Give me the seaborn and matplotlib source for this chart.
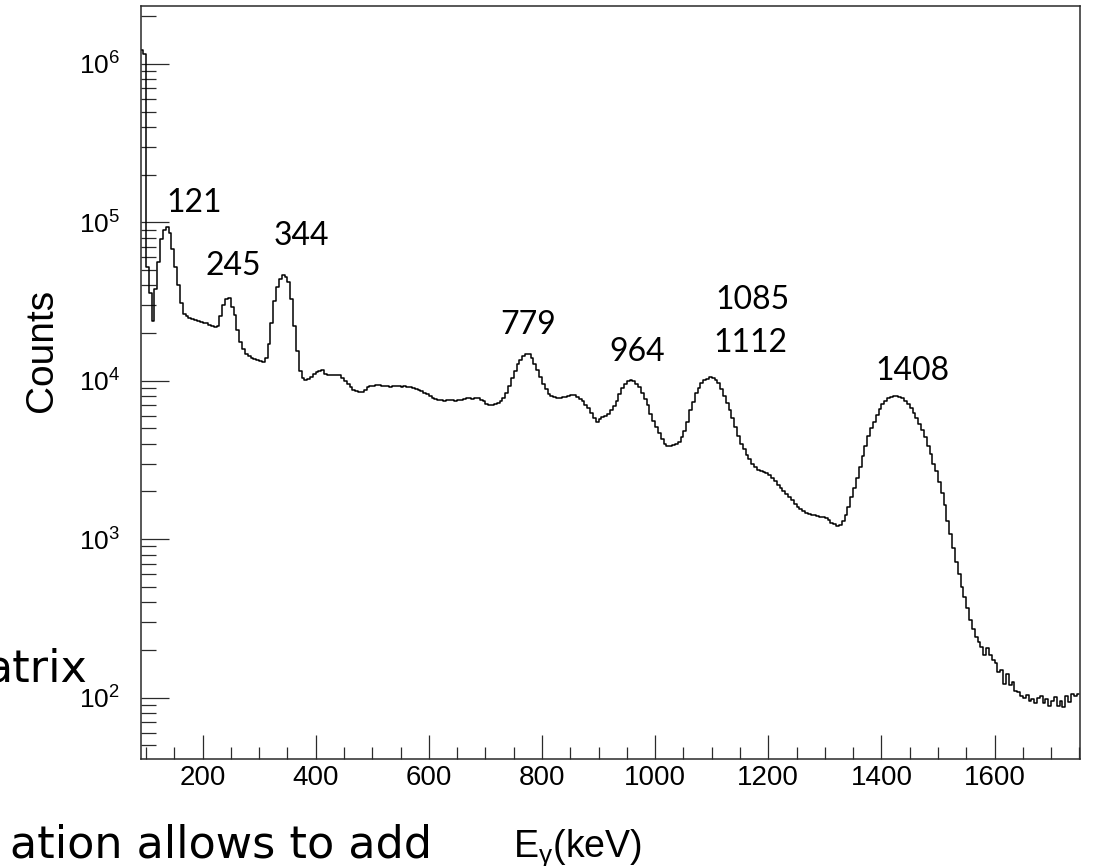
import numpy as np
import pandas as pd
import matplotlib
matplotlib.use("Agg")
import matplotlib.pyplot as plt
from matplotlib.ticker import FixedLocator, MultipleLocator, LogLocator, NullFormatter
import seaborn as sns

# Gamma-ray spectrum, 5 keV bins starting at 90 keV
bin_width = 5
first_edge = 90
counts = [
    1220000, 1150000, 52000, 36000, 24000, 38000, 56000, 78000, 90000, 94000,   # 90
    85000, 68000, 52000, 40000, 31000, 26500, 25500, 25000, 24600, 24300,       # 140
    24000, 23600, 23300, 23000, 22600, 22200, 21800, 22200, 25500, 30000,       # 190
    33000, 33500, 29000, 26000, 21000, 17500, 15800, 14800, 14300, 14000,       # 240
    13800, 13600, 13300, 13100, 14000, 17000, 23000, 32000, 39000, 44000,       # 290
    46500, 45000, 42000, 33000, 22000, 15500, 11500, 10400, 10100, 10200,       # 340
    10600, 11000, 11300, 11600, 11700, 11100, 10900, 10900, 10800, 10800,       # 390
    10800, 10400, 10000, 9600, 9100, 8800, 8600, 8500, 8500, 8800,             # 440
    9100, 9200, 9300, 9400, 9400, 9300, 9300, 9200, 9100, 9200,                # 490
    9200, 9200, 9100, 9200, 9150, 9100, 9000, 8900, 8750, 8600,                # 540
    8400, 8200, 8000, 7800, 7700, 7600, 7550, 7500, 7550, 7600,                # 590
    7550, 7500, 7600, 7550, 7700, 7750, 7800, 7700, 7750, 7800,                # 640
    7600, 7400, 7100, 7000, 7000, 7100, 7200, 7400, 7800, 8400,                # 690
    9300, 10400, 11600, 12700, 13600, 14300, 14700, 14800, 13900, 12800,       # 740
    11700, 10600, 9600, 8900, 8300, 8000, 7850, 7800, 7750, 7850,              # 790
    7900, 8000, 8100, 8100, 7900, 7700, 7400, 7000, 6700, 6300,                # 840
    5800, 5500, 5700, 5900, 6000, 6200, 6500, 6900, 7500, 8300,                # 890
    9000, 9600, 9900, 10100, 10000, 9600, 9100, 8400, 7700, 7000,              # 940
    6200, 5600, 5100, 4700, 4300, 4000, 3900, 3850, 3950, 4000,                # 990
    4100, 4400, 4800, 5500, 6500, 7300, 8400, 9000, 9700, 10100,               # 1040
    10300, 10500, 10400, 10100, 9700, 8900, 8000, 7200, 6500, 5800,            # 1090
    5100, 4500, 4000, 3700, 3400, 3200, 3000, 2850, 2750, 2700,                # 1140
    2650, 2600, 2550, 2450, 2320, 2200, 2100, 2000, 1930, 1850,                # 1190
    1760, 1670, 1600, 1540, 1500, 1470, 1450, 1430, 1420, 1400,                # 1240
    1380, 1390, 1360, 1320, 1270, 1240, 1210, 1230, 1300, 1420,                # 1290
    1600, 1850, 2100, 2450, 2850, 3350, 3900, 4450, 5000, 5500,                # 1340
    6100, 6600, 7100, 7500, 7800, 7950, 8000, 8000, 7900, 7800,                # 1390
    7500, 7100, 6700, 6300, 5800, 5300, 4900, 4400, 3900, 3450,                # 1440
    3000, 2700, 2300, 1950, 1650, 1300, 1080, 880, 720, 600,                   # 1490
    500, 430, 370, 310, 270, 240, 225, 210, 185, 205,                          # 1540
    185, 172, 165, 145, 150, 122, 140, 120, 125, 110,                          # 1590
    108, 103, 99, 104, 95, 98, 92, 99, 103, 93,                                # 1640
    98, 88, 95, 101, 89, 95, 87, 102, 94, 105,                                 # 1690
    103, 106,                                                                  # 1740
]
bin_edges = [first_edge + bin_width * i for i in range(len(counts) + 1)]
bin_centers = [e + bin_width / 2 for e in bin_edges[:-1]]

# Peak energy annotations
peak_labels = ["121", "245", "344", "779", "964", "1085", "1112", "1408"]
peak_label_x = [186, 255, 374, 775, 969, 1173, 1169, 1454]
peak_label_y = [117000, 46600, 72000, 19750, 13400, 28400, 15200, 10100]

x_ticks = [200, 400, 600, 800, 1000, 1200, 1400, 1600]
y_ticks = [1e2, 1e3, 1e4, 1e5, 1e6]
y_tick_labels = [r"$\mathregular{10^{2}}$", r"$\mathregular{10^{3}}$",
                 r"$\mathregular{10^{4}}$", r"$\mathregular{10^{5}}$",
                 r"$\mathregular{10^{6}}$"]

spectrum = pd.DataFrame({"energy": bin_centers, "counts": counts})

sns.set_style("white")
plt.rcParams["font.family"] = ["Liberation Sans", "DejaVu Sans"]
plt.rcParams["mathtext.fontset"] = "custom"
plt.rcParams["mathtext.rm"] = "Liberation Sans"
plt.rcParams["mathtext.it"] = "Liberation Sans:italic"
plt.rcParams["text.color"] = "black"
plt.rcParams["axes.labelcolor"] = "black"

fig = plt.figure(figsize=(10.94, 8.66), dpi=100)
fig.patch.set_facecolor("white")
ax = fig.add_axes([0.1289, 0.1236, 0.8583, 0.8695])
ax.set_yscale("log")

sns.histplot(data=spectrum, x="energy", weights="counts", bins=bin_edges,
             element="step", fill=False, color="black", linewidth=1.1, ax=ax)

ax.set_xlim(91.3, 1751)
ax.set_ylim(41.0, 2.32e6)

# axis frame and ticks
frame_color = "#2a2a2a"
for sp in ax.spines.values():
    sp.set_visible(True)
    sp.set_color(frame_color)
    sp.set_linewidth(1.1)

ax.xaxis.set_major_locator(FixedLocator(x_ticks))
ax.xaxis.set_minor_locator(MultipleLocator(50))
ax.set_xticklabels([str(t) for t in x_ticks])
ax.yaxis.set_major_locator(FixedLocator(y_ticks))
ax.set_yticklabels(y_tick_labels)
ax.yaxis.set_minor_locator(LogLocator(base=10, subs=np.arange(2, 10), numticks=30))
ax.yaxis.set_minor_formatter(NullFormatter())

ax.tick_params(axis="both", which="both", direction="in", bottom=True, left=True,
               top=False, right=False, color=frame_color, width=0.9,
               labelcolor="black")
ax.tick_params(axis="x", which="major", length=17, pad=4.5, labelsize=20)
ax.tick_params(axis="x", which="minor", length=8.6)
ax.tick_params(axis="y", which="major", length=20, pad=15, labelsize=19)
ax.tick_params(axis="y", which="minor", length=10.8)
ax.grid(False)

ax.set_ylabel("Counts", fontsize=28, va="baseline", color="black")
ax.yaxis.set_label_coords(-0.0948, 0.543)
ax.set_xlabel(r"$\mathregular{E_{\gamma}}$(keV)", fontsize=27, va="baseline",
              color="black")
ax.xaxis.set_label_coords(0.4643, -0.1301)

for lab, px, py in zip(peak_labels, peak_label_x, peak_label_y):
    ax.text(px, py, lab, ha="center", va="baseline", fontsize=23,
            family=["Lato", "DejaVu Sans"], color="black")

# slide text partly visible around the plot
fig.text(87 / 1094, 1 - 682 / 866, "atrix", ha="right", va="baseline",
         fontsize=32, family="DejaVu Sans", color="black")
fig.text(432 / 1094, 1 - 857 / 866, "ation allows to add", ha="right",
         va="baseline", fontsize=32, family="DejaVu Sans", color="black")

fig.savefig("out.png", dpi=100, facecolor="white")
